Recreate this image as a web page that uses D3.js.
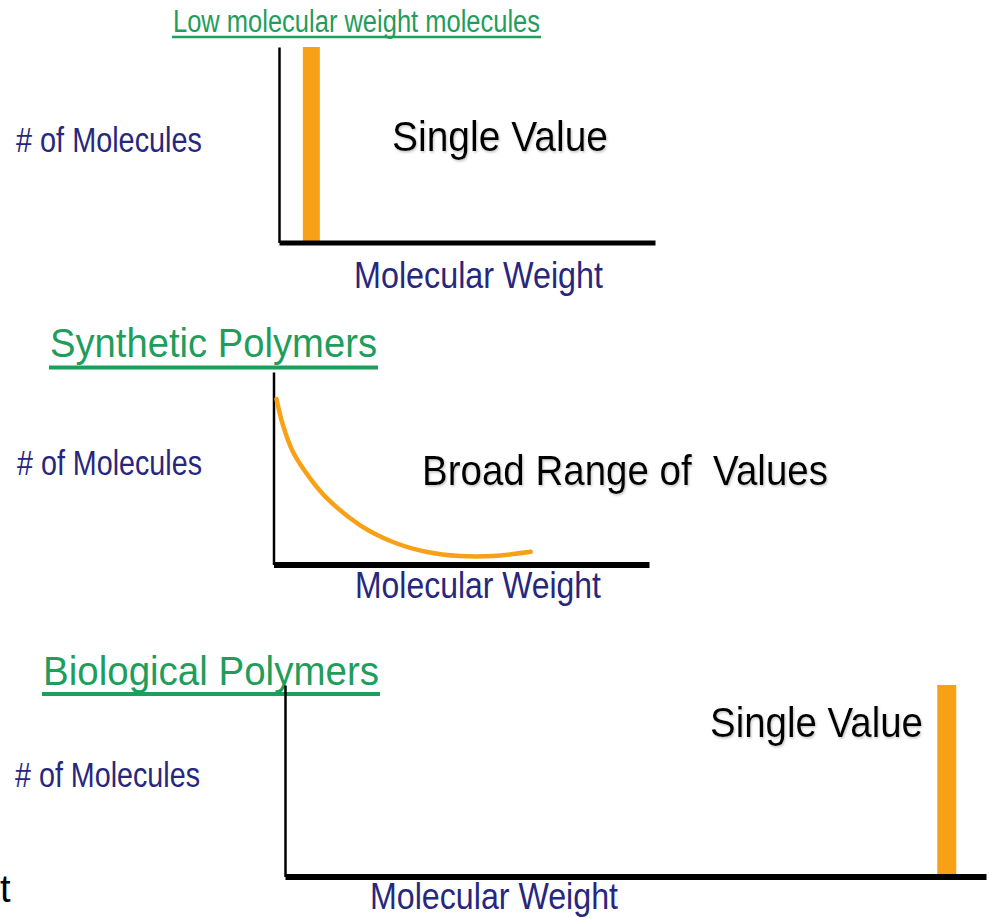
<!DOCTYPE html>
<html>
<head>
<meta charset="utf-8">
<script src="https://cdn.jsdelivr.net/npm/d3@7"></script>
<style>
  html, body { margin: 0; padding: 0; background: #fff; overflow: hidden; }
  svg { display: block; }
  text { font-family: "Liberation Sans Narrow", "Liberation Sans", Arial, sans-serif; white-space: pre; }
</style>
</head>
<body>
<svg id="chart" width="989" height="918"></svg>
<script>
'use strict';

// --- data ---
const panelTitles = ['Low molecular weight molecules', 'Synthetic Polymers', 'Biological Polymers'];
const yLabel = '# of Molecules';
const xLabel = 'Molecular Weight';
const notes = ['Single Value', 'Broad Range of  Values', 'Single Value'];

// molecular weight (0-100 of axis) / count (0-100 of axis)
const lowMwBar = [{mw: 8.6, count: 100}];
const syntheticMw = [0.8, 2.5, 5.2, 9.7, 14.2, 23.0, 31.8, 40.9, 49.7, 58.5, 68.5];
const syntheticCount = [86, 72.5, 58.4, 44.9, 34.5, 20.5, 11.7, 6.5, 4.4, 4.4, 6.6];
const biologicalBar = [{mw: 94.4, count: 100}];

const GREEN = '#1f9d5c';
const NAVY = '#27277d';
const ORANGE = '#f8a116';

const svg = d3.select('#chart');

// soft grey shadow the black notes have in the slide
svg.append('defs').append('filter')
    .attr('id', 'shadow')
    .append('feDropShadow')
    .attr('dx', 1).attr('dy', 1.5)
    .attr('stdDeviation', 0.8)
    .attr('flood-color', '#888')
    .attr('flood-opacity', 0.5);

// label helper: x, baseline y, font size, width to squeeze into
function label(g, str, x, y, size, width, color) {
    const t = g.append('text')
        .attr('x', x)
        .attr('y', y)
        .attr('font-size', size)
        .attr('fill', color)
        .text(str);
    if (width) {
        t.attr('textLength', width).attr('lengthAdjust', 'spacingAndGlyphs');
    }
    return t;
}

function title(g, str, x, y, size, width, uy, uw) {
    label(g, str, x, y, size, width, GREEN);
    g.append('line')
        .attr('x1', x - 1).attr('x2', x + width + 1)
        .attr('y1', uy).attr('y2', uy)
        .attr('stroke', GREEN)
        .attr('stroke-width', uw);
}

function axes(g, x, y, xw, yw) {
    g.append('g')
        .attr('transform', `translate(0,${y.range()[0]})`)
        .call(d3.axisBottom(x).ticks(0).tickSizeOuter(0))
        .call(a => a.select('.domain').attr('stroke', '#000').attr('stroke-width', xw));
    g.append('g')
        .attr('transform', `translate(${x.range()[0]},0)`)
        .call(d3.axisLeft(y).ticks(0).tickSizeOuter(0))
        .call(a => a.select('.domain').attr('stroke', '#000').attr('stroke-width', yw));
}

function bars(g, data, x, y, w) {
    g.selectAll('.bar')
        .data(data)
        .enter()
        .append('rect')
        .attr('class', 'bar')
        .attr('x', d => x(d.mw) - w / 2)
        .attr('width', w)
        .attr('y', d => y(d.count))
        .attr('height', d => y(0) - y(d.count))
        .attr('fill', ORANGE);
}

// panel 1: low molecular weight
{
    const g = svg.append('g');
    const x = d3.scaleLinear().domain([0, 100]).range([279, 655]);
    const y = d3.scaleLinear().domain([0, 100]).range([242.5, 47]);
    title(g, panelTitles[0], 173, 32, 31, 367, 37, 2.5);
    label(g, yLabel, 16, 152, 35, 186, NAVY);
    label(g, xLabel, 354, 288, 37, 249, NAVY);
    bars(g, lowMwBar, x, y, 17);
    axes(g, x, y, 5, 2.5);
    label(g, notes[0], 392, 151, 43, 216, '#000').attr('filter', 'url(#shadow)');
}

// panel 2: synthetic polymers
{
    const g = svg.append('g');
    const x = d3.scaleLinear().domain([0, 100]).range([273.5, 649]);
    const y = d3.scaleLinear().domain([0, 100]).range([564.5, 372]);
    title(g, panelTitles[1], 50, 357, 41, 327, 367.5, 4);
    label(g, yLabel, 17, 475, 35, 185, NAVY);
    label(g, xLabel, 355, 598, 37, 246, NAVY);
    axes(g, x, y, 6, 2.5);
    const pts = syntheticMw.map((m, i) => [m, syntheticCount[i]]);
    g.append('path')
        .datum(pts)
        .attr('fill', 'none')
        .attr('stroke', ORANGE)
        .attr('stroke-width', 4.5)
        .attr('stroke-linecap', 'round')
        .attr('d', d3.line().x(d => x(d[0])).y(d => y(d[1])).curve(d3.curveCatmullRom));
    label(g, notes[1], 422, 485, 43, 406, '#000').attr('filter', 'url(#shadow)');
}

// panel 3: biological polymers
{
    const g = svg.append('g');
    const x = d3.scaleLinear().domain([0, 100]).range([285, 986]);
    const y = d3.scaleLinear().domain([0, 100]).range([876.5, 685]);
    title(g, panelTitles[2], 43, 685, 41, 336, 694, 4);
    label(g, yLabel, 15, 787, 35, 185, NAVY);
    label(g, xLabel, 370, 909, 37, 248, NAVY);
    bars(g, biologicalBar, x, y, 19);
    axes(g, x, y, 6, 2.5);
    label(g, notes[2], 710, 737, 43, 213, '#000').attr('filter', 'url(#shadow)');
    // leftover letter at the slide's left edge
    label(g, 't', 0, 902, 38, null, '#000');
}
</script>
</body>
</html>
